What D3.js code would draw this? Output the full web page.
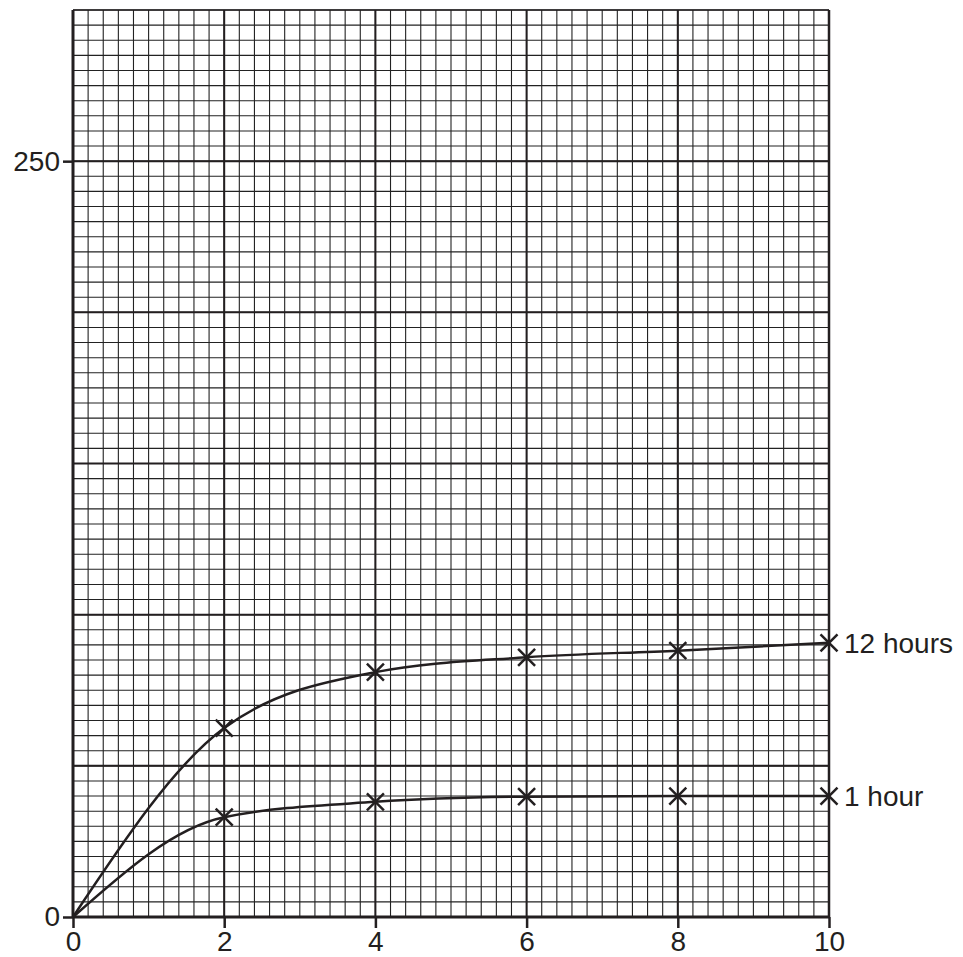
<!DOCTYPE html>
<html>
<head>
<meta charset="utf-8">
<script src="https://cdn.jsdelivr.net/npm/d3@7"></script>
<style>
  html, body { margin: 0; padding: 0; background: #fff; }
  svg { display: block; }
  text { font-family: "Liberation Sans", Arial, sans-serif; fill: #231f20; }
</style>
</head>
<body>
<script>
// Measurement times (x) and readings for each series
const times = [0, 2, 4, 6, 8, 10];
const series12h = [0, 62.5, 81, 85.9, 88.1, 90.7];
const series1h = [0, 33, 38.1, 39.8, 40, 40];
const seriesNames = ["12 hours", "1 hour"];
const xTickLabels = [0, 2, 4, 6, 8, 10];
const yTickLabels = [0, 250];

const W = 963, H = 957;
const svg = d3.select("body").append("svg").attr("width", W).attr("height", H);

const x = d3.scaleLinear().domain([0, 10]).range([73, 829]);
const y = d3.scaleLinear().domain([0, 300]).range([917, 10]);

const ink = "#231f20";

// Graph-paper grid: fine lines every 0.2 / 5 units, bold lines every 2 / 50 units
const grid = svg.append("g");
const xMinor = x.ticks(50), yMinor = y.ticks(60);
grid.selectAll("line.vx").data(xMinor).join("line")
  .attr("x1", d => x(d)).attr("x2", d => x(d))
  .attr("y1", y(300)).attr("y2", y(0))
  .attr("stroke", "#222").attr("stroke-width", 1.1);
grid.selectAll("line.hy").data(yMinor).join("line")
  .attr("x1", x(0)).attr("x2", x(10))
  .attr("y1", d => y(d)).attr("y2", d => y(d))
  .attr("stroke", "#222").attr("stroke-width", 1.1);

const xMajor = d3.range(0, 10.001, 2), yMajor = d3.range(0, 300.001, 50);
grid.selectAll("line.VX").data(xMajor).join("line")
  .attr("x1", d => x(d)).attr("x2", d => x(d))
  .attr("y1", y(300)).attr("y2", y(0))
  .attr("stroke", ink).attr("stroke-width", 2);
grid.selectAll("line.HY").data(yMajor).join("line")
  .attr("x1", x(0)).attr("x2", x(10))
  .attr("y1", d => y(d)).attr("y2", d => y(d))
  .attr("stroke", ink).attr("stroke-width", d => d === 300 ? 1.5 : 2);

// Right border
svg.append("line").attr("x1", x(10)).attr("x2", x(10))
  .attr("y1", y(300)).attr("y2", y(0)).attr("stroke", ink).attr("stroke-width", 2.5);

// Axes
const xAxis = svg.append("g").attr("transform", `translate(0,${y(0)})`)
  .call(d3.axisBottom(x).tickValues(xTickLabels).tickSize(11).tickPadding(3).tickFormat(d3.format("d")));
const yAxis = svg.append("g").attr("transform", `translate(${x(0)},0)`)
  .call(d3.axisLeft(y).tickValues(yTickLabels).tickSize(10).tickPadding(3).tickFormat(d3.format("d")));
[xAxis, yAxis].forEach(g => {
  g.select(".domain").attr("stroke", ink).attr("stroke-width", 3);
  g.selectAll(".tick line").attr("stroke", ink).attr("stroke-width", 2.5);
  g.selectAll(".tick text").attr("fill", ink).style("font-size", "28px")
    .style("font-family", "'Liberation Sans', Arial, sans-serif");
});
xAxis.select(".domain").attr("d", `M${x(0)},0H${x(10)}`);
yAxis.select(".domain").attr("d", `M0,${y(0)}V${y(300)}`);

// Curves and cross markers
const line = d3.line().x(d => x(d[0])).y(d => y(d[1])).curve(d3.curveMonotoneX);
const allSeries = [series12h, series1h];
allSeries.forEach((vals, i) => {
  const pts = times.map((t, j) => [t, vals[j]]);
  svg.append("path").attr("d", line(pts)).attr("fill", "none")
    .attr("stroke", ink).attr("stroke-width", 2.5);
  const s = 8.5;
  svg.selectAll(null).data(pts.slice(1)).join("path")
    .attr("d", d => {
      const cx = x(d[0]), cy = y(d[1]);
      return `M${cx - s},${cy - s}L${cx + s},${cy + s}M${cx - s},${cy + s}L${cx + s},${cy - s}`;
    })
    .attr("stroke", ink).attr("stroke-width", 2.5).attr("fill", "none");
  svg.append("text")
    .attr("x", x(10) + 15).attr("y", y(vals[vals.length - 1]))
    .attr("dy", "0.35em").style("font-size", "28px")
    .text(seriesNames[i]);
});
</script>
</body>
</html>
